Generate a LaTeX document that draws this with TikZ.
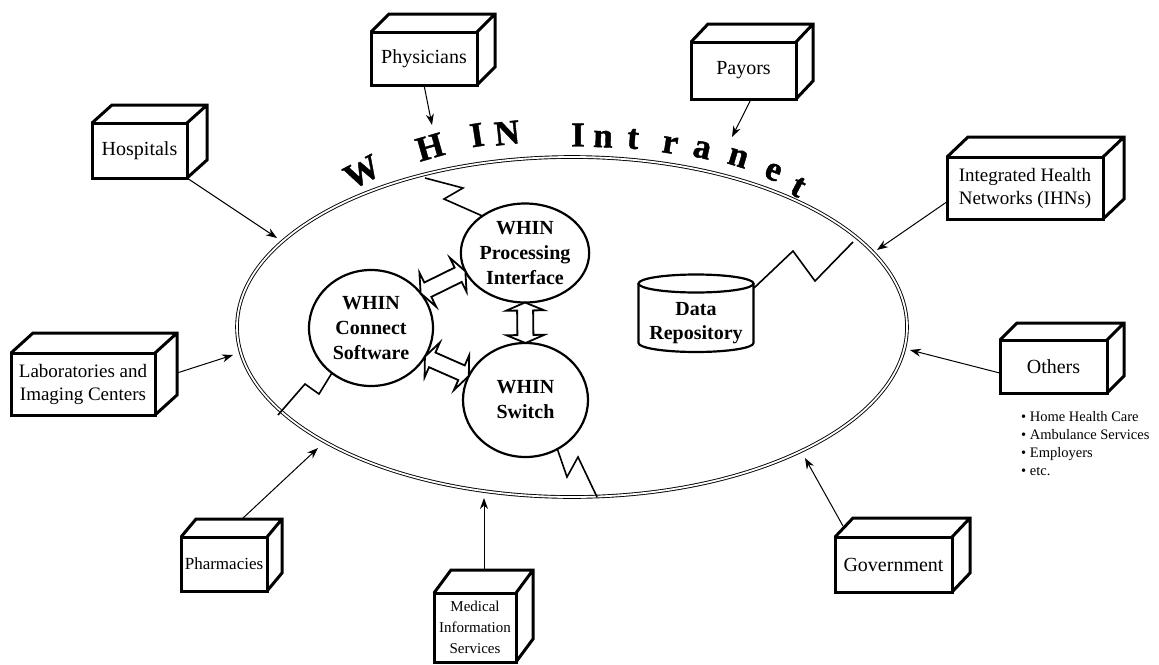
\documentclass[tikz,border=0pt]{standalone}
\usepackage{fontspec}
\setmainfont{Liberation Serif}
\newfontfamily\titlefont[FakeBold=1.2]{Liberation Serif Bold}
\usetikzlibrary{shapes.geometric,arrows.meta,calc}
\newcommand\cubefaces[3]{%
  \draw[faceline] (#1.north west) -- ++(#2,-#3) -- ($(#1.north east)+(#2,-#3)$)
    -- ($(#1.south east)+(#2,-#3)$) -- (#1.south east)
    (#1.north east) -- ++(#2,-#3);}
% hollow double-headed arrow between two named points
\newcommand\hollowarrow[2]{%
  \draw[harrow] (#1)
    -- ($(#1)!8pt!(#2)!19pt!90:(#2)$) -- ($(#1)!8pt!(#2)!8pt!90:(#2)$)
    -- ($(#2)!8pt!(#1)!8pt!-90:(#1)$) -- ($(#2)!8pt!(#1)!19pt!-90:(#1)$)
    -- (#2)
    -- ($(#2)!8pt!(#1)!19pt!90:(#1)$) -- ($(#2)!8pt!(#1)!8pt!90:(#1)$)
    -- ($(#1)!8pt!(#2)!8pt!-90:(#2)$) -- ($(#1)!8pt!(#2)!19pt!-90:(#2)$)
    -- cycle;}
\begin{document}
\begin{tikzpicture}[x=1pt,y=-1pt,
  ent/.style={draw, line width=3pt, fill=white, align=center, inner sep=0pt, outer sep=0pt,
    line join=miter, font=\fontsize{20}{23}\selectfont},
  faceline/.style={line width=3pt, line join=miter},
  proc/.style={ellipse, draw, line width=2.2pt, fill=white, align=center, inner sep=0pt,
    outer sep=0pt, font=\fontsize{20}{25}\selectfont\bfseries},
  conn/.style={line width=1pt, -{Stealth[length=11pt,width=8pt]}},
  zig/.style={line width=1.6pt, line join=miter},
  harrow/.style={line width=1.8pt, fill=white, line join=miter},
  lett/.style={font=\fontsize{35}{35}\titlefont, inner sep=0pt},
  cyl/.style={line width=2.2pt},
]
\useasboundingbox (0,0) rectangle (1159,664);

% the intranet ellipse
\node[ellipse, draw, line width=0.9pt, double, double distance=1.8pt,
  minimum width=670, minimum height=340, inner sep=0pt] (net) at (572,327) {};

% curved title
\foreach \c/\x/\y/\r [count=\i] in {W/362/172/28, H/430/147/16, I/477/135/9, N/507/133/6,
  I/578/135/0, n/603/139/-2, t/633/139/-5, r/670/145/-9, a/702/150/-13, n/738/158/-17,
  e/773/172/-22, t/798/187/-28}
  \node[lett, rotate=\r] (L\i) at (\x,\y) {\c};

% inner components
\node[font=\fontsize{20}{24}\selectfont\bfseries, align=center, inner sep=0pt] (data) at (696,323) {Data\\Repository};
\draw[cyl] ($(data.center)+(0,-39.5)$) ellipse [x radius=57.5pt, y radius=9pt];
\draw[cyl] ($(data.center)+(-57.5,-39.5)$) -- ($(data.center)+(-57.5,20)$)
  arc[start angle=180, end angle=360, x radius=57.5pt, y radius=9pt]
  -- ($(data.center)+(57.5,-39.5)$);
\coordinate (dataR) at ($(data.center)+(58,-35)$);

\node[proc, minimum width=125, minimum height=99] (proc) at (525,253) {WHIN\\Processing\\Interface};
\node[proc, minimum width=124, minimum height=116] (conn) at (371,328) {WHIN\\Connect\\Software};
\node[proc, minimum width=125, minimum height=114] (swit) at (525.5,400) {WHIN\\Switch};

\hollowarrow{conn.35}{proc.197}
\hollowarrow{conn.-28}{swit.157}
\hollowarrow{proc.south}{swit.north}

% zigzag links to the intranet
\coordinate (z1) at (425,178);
\coordinate (z2) at (278,415);
\coordinate (z3) at (597,497);
\coordinate (z4) at (853,242);
\draw[zig] (proc.139) -- (444,199) -- (463,188) -- (z1);
\draw[zig] (conn.229) -- (319,394) -- (305,384) -- (z2);
\draw[zig] (swit.-57) -- (567,477) -- (578,457) -- (z3);
\draw[zig] (dataR) -- (793,251) -- (815,281) -- (z4);

% outside entities
\node[ent, minimum width=95, minimum height=55] (hosp) at (139.5,150.5) {Hospitals};
\cubefaces{hosp}{20}{18}
\node[ent, minimum width=106, minimum height=53] (phys) at (424,58.5) {Physicians};
\cubefaces{phys}{18}{18}
\node[ent, minimum width=105, minimum height=57] (pay) at (743.5,70.5) {Payors};
\cubefaces{pay}{17}{18}
\node[ent, minimum width=156, minimum height=62, font=\fontsize{19}{23}\selectfont] (ihn) at (1025,188) {Integrated Health\\Networks (IHNs)};
\cubefaces{ihn}{21}{20}
\node[ent, minimum width=144, minimum height=62, font=\fontsize{19}{23}\selectfont] (labs) at (83,384) {Laboratories and\\Imaging Centers};
\cubefaces{labs}{22}{20}
\node[ent, minimum width=107, minimum height=53] (oth) at (1053.5,366.5) {Others};
\cubefaces{oth}{17}{17}
\node[ent, minimum width=86, minimum height=54, font=\fontsize{17}{20}\selectfont] (phar) at (224,564) {Pharmacies};
\cubefaces{phar}{15}{18}
\node[ent, minimum width=82, minimum height=69, font=\fontsize{15}{21}\selectfont] (med) at (475,627.5) {Medical\\Information\\Services};
\cubefaces{med}{17}{23}
\node[ent, minimum width=117, minimum height=55] (gov) at (893.5,564.5) {Government};
\cubefaces{gov}{18}{19}

\node[anchor=north west, align=left, inner sep=0pt, font=\fontsize{14.5}{18}\selectfont] (othl) at (1021,411)
  {• Home Health Care\\• Ambulance Services\\• Employers\\• etc.};

% arrows towards the intranet
\coordinate (tHosp) at (277,238);
\coordinate (tPhys) at (432,125);
\coordinate (tPay) at (732,137);
\coordinate (tIHN) at (877,250);
\coordinate (tLabs) at (233,355);
\coordinate (tOth) at (910,350);
\coordinate (tPhar) at (318,448);
\coordinate (tMed) at (484,498);
\coordinate (tGov) at (805,458);
\draw[conn] (hosp.south east) -- (tHosp);
\draw[conn] (phys.south) -- (tPhys);
\draw[conn] (pay.-75) -- (tPay);
\draw[conn] (ihn.190) -- (tIHN);
\draw[conn] ($(labs.east)+(22,-11)$) -- (tLabs);
\draw[conn] (oth.187) -- (tOth);
\draw[conn] ($(phar.north)+(18,-18)$) -- (tPhar);
\draw[conn] ($(med.north)+(9,-23)$) -- (tMed);
\draw[conn] ($(gov.north west)+(8,-11)$) -- (tGov);
\end{tikzpicture}
\end{document}
